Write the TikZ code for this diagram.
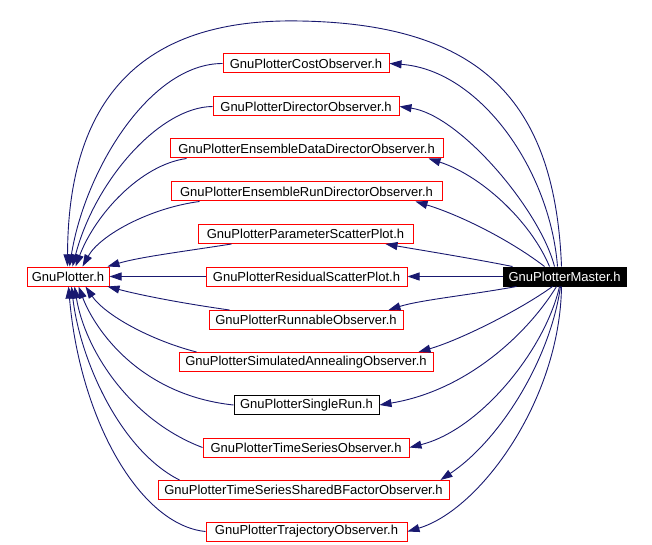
\documentclass[tikz,border=0pt]{standalone}
\usepackage{fontspec}
\setmainfont{Liberation Sans}
\usetikzlibrary{arrows.meta}
\definecolor{edgeblue}{RGB}{25,25,112}
\begin{document}
\begin{tikzpicture}[x=1pt,y=-1pt,
  box/.style={draw=red, line width=1pt, inner sep=0pt, minimum height=19pt, font=\fontsize{13}{15}\selectfont, text=black},
  blackbox/.style={box, draw=black},
  masterbox/.style={box, draw=black, fill=black, text=white},
  edge/.style={draw=edgeblue, line width=0.9pt, -{Triangle[length=12pt,width=8pt]}}]
\fill[white] (0,0) rectangle (652,545);
\useasboundingbox (0,0) rectangle (652,545);

\node[box, minimum width=82pt] (gp) at (68,276.5) {GnuPlotter.h};
\node[masterbox, minimum width=123pt] (master) at (564.5,276.5) {GnuPlotterMaster.h};
\node[box, minimum width=166pt] (cost) at (306,63.5) {GnuPlotterCostObserver.h};
\node[box, minimum width=186pt] (director) at (306,106.5) {GnuPlotterDirectorObserver.h};
\node[box, minimum width=273pt] (ensdata) at (306.5,148.5) {GnuPlotterEnsembleDataDirectorObserver.h};
\node[box, minimum width=271pt] (ensrun) at (306.5,191.5) {GnuPlotterEnsembleRunDirectorObserver.h};
\node[box, minimum width=215pt] (param) at (305.5,234) {GnuPlotterParameterScatterPlot.h};
\node[box, minimum width=201pt] (resid) at (306.5,276.5) {GnuPlotterResidualScatterPlot.h};
\node[box, minimum width=194pt] (runnable) at (306,320) {GnuPlotterRunnableObserver.h};
\node[box, minimum width=254pt] (simul) at (306,362) {GnuPlotterSimulatedAnnealingObserver.h};
\node[blackbox, minimum width=145pt] (single) at (306.5,405) {GnuPlotterSingleRun.h};
\node[box, minimum width=206pt] (timeser) at (306,447.5) {GnuPlotterTimeSeriesObserver.h};
\node[box, minimum width=291pt] (tsshared) at (303.5,490) {GnuPlotterTimeSeriesSharedBFactorObserver.h};
\node[box, minimum width=201pt] (traj) at (306.5,531.5) {GnuPlotterTrajectoryObserver.h};

% direct edge
\draw[edge] ([xshift=59pt]master.north west) .. controls (555,100) and (480,24) .. (300,21) .. controls (150,18) and (68,90) .. ([xshift=41pt]gp.north west);

% left edges (to GnuPlotter.h)
\draw[edge] (cost.west) .. controls (150,63.5) and (85,170) .. ([xshift=43pt]gp.north west);
\draw[edge] (director.west) .. controls (160,107) and (95,180) .. ([xshift=46pt]gp.north west);
\draw[edge] ([xshift=17pt]ensdata.south west) .. controls (140,165) and (95,215) .. ([xshift=49pt]gp.north west);
\draw[edge] ([xshift=29pt]ensrun.south west) .. controls (150,208) and (100,235) .. ([xshift=56pt]gp.north west);
\draw[edge] ([xshift=34pt]param.south west) .. controls (180,252) and (140,257) .. ([xshift=81pt]gp.north west);
\draw[edge] (resid.west) -- (gp.east);
\draw[edge] ([xshift=21pt]runnable.north west) .. controls (180,303) and (140,295) .. ([xshift=81pt]gp.south west);
\draw[edge] ([xshift=18pt]simul.north west) .. controls (150,340) and (105,315) .. ([xshift=59pt]gp.south west);
\draw[edge] (single.west) .. controls (140,395) and (95,330) .. ([xshift=52pt]gp.south west);
\draw[edge] (timeser.west) .. controls (130,420) and (85,350) .. ([xshift=48pt]gp.south west);
\draw[edge] ([xshift=22pt]tsshared.north west) .. controls (120,450) and (80,360) .. ([xshift=45pt]gp.south west);
\draw[edge] (traj.west) .. controls (140,525) and (80,420) .. ([xshift=42pt]gp.south west);

% right edges (from GnuPlotterMaster.h)
\draw[edge] ([xshift=55pt]master.north west) .. controls (550,170) and (480,70) .. (cost.east);
\draw[edge] ([xshift=52pt]master.north west) .. controls (540,210) and (460,115) .. (director.east);
\draw[edge] ([xshift=47pt]master.north west) .. controls (530,220) and (480,175) .. ([xshift=-15pt]ensdata.south east);
\draw[edge] ([xshift=42pt]master.north west) .. controls (510,240) and (460,215) .. ([xshift=-27pt]ensrun.south east);
\draw[edge] ([xshift=10pt]master.north west) .. controls (470,258) and (420,250) .. ([xshift=-28pt]param.south east);
\draw[edge] (master.west) -- (resid.east);
\draw[edge] ([xshift=14pt]master.south west) .. controls (470,295) and (420,300) .. ([xshift=-15pt]runnable.north east);
\draw[edge] ([xshift=50pt]master.south west) .. controls (520,310) and (460,340) .. ([xshift=-15pt]simul.north east);
\draw[edge] ([xshift=54pt]master.south west) .. controls (530,330) and (470,390) .. (single.east);
\draw[edge] ([xshift=57pt]master.south west) .. controls (545,350) and (480,430) .. (timeser.east);
\draw[edge] ([xshift=58pt]master.south west) .. controls (550,360) and (500,440) .. ([xshift=-9pt]tsshared.north east);
\draw[edge] ([xshift=59pt]master.south west) .. controls (560,400) and (480,510) .. (traj.east);
\end{tikzpicture}
\end{document}
